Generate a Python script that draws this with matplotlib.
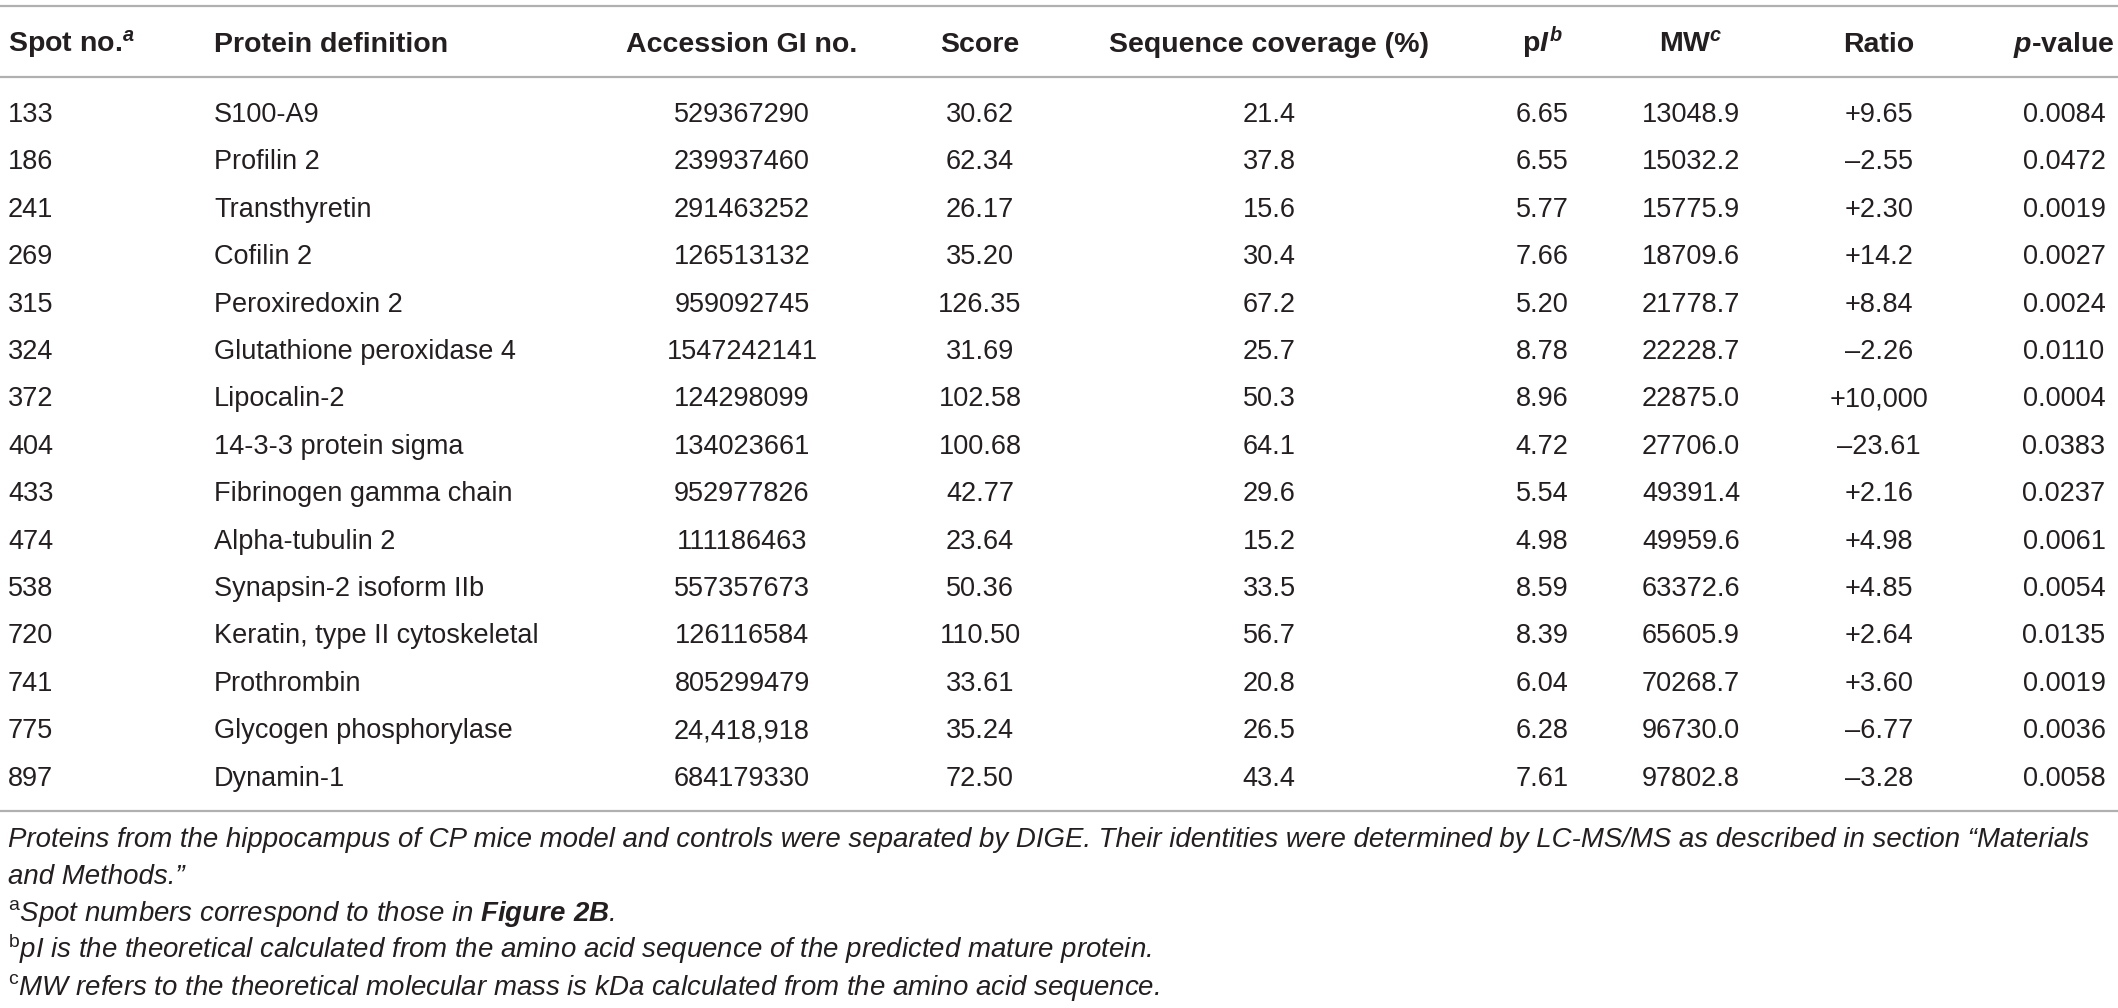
import matplotlib
matplotlib.use("Agg")
import matplotlib.pyplot as plt

# table contents
headers = ["Spot no.$^{a}$", "Protein definition", "Accession GI no.", "Score",
           "Sequence coverage (%)", r"p$\mathit{I}^{b}$", "MW$^{c}$", "Ratio",
           r"$\mathit{p}$-value"]
spots = ["133", "186", "241", "269", "315", "324", "372", "404", "433", "474",
         "538", "720", "741", "775", "897"]
proteins = ["S100-A9", "Profilin 2", "Transthyretin", "Cofilin 2", "Peroxiredoxin 2",
            "Glutathione peroxidase 4", "Lipocalin-2", "14-3-3 protein sigma",
            "Fibrinogen gamma chain", "Alpha-tubulin 2", "Synapsin-2 isoform IIb",
            "Keratin, type II cytoskeletal", "Prothrombin", "Glycogen phosphorylase",
            "Dynamin-1"]
accession = ["529367290", "239937460", "291463252", "126513132", "959092745",
             "1547242141", "124298099", "134023661", "952977826", "111186463",
             "557357673", "126116584", "805299479", "24,418,918", "684179330"]
score = ["30.62", "62.34", "26.17", "35.20", "126.35", "31.69", "102.58", "100.68",
         "42.77", "23.64", "50.36", "110.50", "33.61", "35.24", "72.50"]
coverage = ["21.4", "37.8", "15.6", "30.4", "67.2", "25.7", "50.3", "64.1", "29.6",
            "15.2", "33.5", "56.7", "20.8", "26.5", "43.4"]
pi = ["6.65", "6.55", "5.77", "7.66", "5.20", "8.78", "8.96", "4.72", "5.54", "4.98",
      "8.59", "8.39", "6.04", "6.28", "7.61"]
mw = ["13048.9", "15032.2", "15775.9", "18709.6", "21778.7", "22228.7", "22875.0",
      "27706.0", "49391.4", "49959.6", "63372.6", "65605.9", "70268.7", "96730.0",
      "97802.8"]
ratio = ["+9.65", "–2.55", "+2.30", "+14.2", "+8.84", "–2.26", "+10,000", "–23.61",
         "+2.16", "+4.98", "+4.85", "+2.64", "+3.60", "–6.77", "–3.28"]
pvalue = ["0.0084", "0.0472", "0.0019", "0.0027", "0.0024", "0.0110", "0.0004",
          "0.0383", "0.0237", "0.0061", "0.0054", "0.0135", "0.0019", "0.0036",
          "0.0058"]

notes = [
    "Proteins from the hippocampus of CP mice model and controls were separated by DIGE. "
    "Their identities were determined by LC-MS/MS as described in section \u201cMaterials",
    "and Methods.\u201d",
    r"$^{\mathrm{a}}$Spot numbers correspond to those in $\mathbf{Figure\ 2B}$.",
    r"$^{\mathrm{b}}$pI is the theoretical calculated from the amino acid sequence of the predicted mature protein.",
    r"$^{\mathrm{c}}$MW refers to the theoretical molecular mass is kDa calculated from the amino acid sequence.",
]

plt.rcParams['font.family'] = ['Liberation Sans', 'DejaVu Sans']
plt.rcParams['mathtext.fontset'] = 'custom'
plt.rcParams['mathtext.rm'] = 'Liberation Sans'
plt.rcParams['mathtext.it'] = 'Liberation Sans:italic:bold'
plt.rcParams['mathtext.bf'] = 'Liberation Sans:bold:italic'

W, H = 2118, 1008
ink = '#231f20'
rule = '#b0b0b0'

fig = plt.figure(figsize=(W / 100, H / 100), dpi=100)
ax = fig.add_axes([0, 0, 1, 1])
ax.set_xlim(0, W)
ax.set_ylim(H, 0)
ax.axis('off')

# column anchors (x, alignment)
cols = [(8, 'left'), (214, 'left'), (742, 'center'), (980, 'center'),
        (1269, 'center'), (1542, 'center'), (1691, 'center'), (1879, 'center'),
        (2064, 'center')]

# rules
ax.hlines([6, 77, 811], 0, W, color=rule, lw=1.6)

for (x, ha), h in zip(cols, headers):
    ax.text(x, 52, h, ha=ha, va='baseline', fontsize=20.5, fontweight='bold', color=ink)

table = [spots, proteins, accession, score, coverage, pi, mw, ratio, pvalue]
for i in range(len(spots)):
    yb = 122 + 47.4 * i
    for (x, ha), col in zip(cols, table):
        ax.text(x, yb, col[i], ha=ha, va='baseline', fontsize=19.5, color=ink)

note_y = [847, 884, 921, 958, 995]
for y, t in zip(note_y, notes):
    ax.text(8, y, t, ha='left', va='baseline', fontsize=19.9, fontstyle='italic', color=ink)

fig.savefig('out.png', dpi=100)
